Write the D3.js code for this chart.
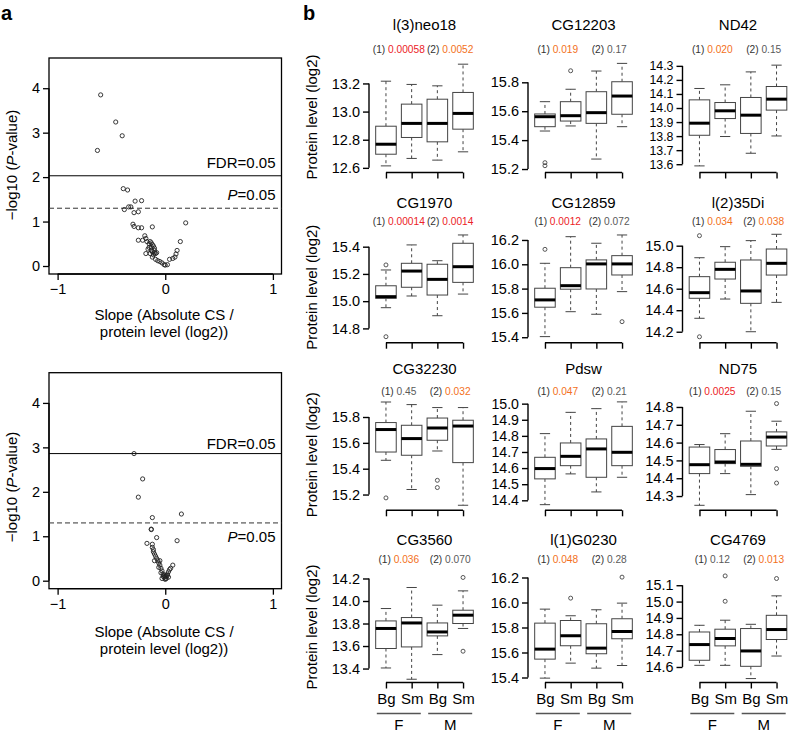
<!DOCTYPE html>
<html><head><meta charset="utf-8">
<script src="https://cdn.jsdelivr.net/npm/d3@7"></script>
<style>
body{margin:0;background:#fff}
svg{display:block;font-family:"Liberation Sans",Arial,Helvetica,sans-serif}
</style>
</head><body>
<svg id="chart" width="788" height="732"></svg>
<script>
// ---------- Panel a data ----------
const slopeTop = [-0.60,-0.46,-0.40,-0.63,-0.39,-0.35,-0.28,-0.22,-0.38,-0.34,-0.32,-0.29,-0.25,-0.30,-0.29,-0.25,-0.22,-0.12,0.19,0.14,0.11,0.10,0.09,0.07,0.04,0.02,0.00,-0.01,-0.03,-0.05,
  -0.25,-0.21,-0.19,-0.18,-0.17,-0.15,-0.14,-0.13,-0.12,-0.11,-0.10,-0.15,-0.13,-0.12,-0.10,-0.09,-0.08,-0.11,-0.14,-0.16,-0.18,-0.12,-0.09,-0.07,-0.13,-0.10];
const logPTop = [3.85,3.24,2.93,2.60,1.74,1.71,1.46,1.47,1.27,1.33,1.33,1.20,1.22,0.94,0.89,0.86,0.86,0.88,0.97,0.55,0.35,0.27,0.20,0.17,0.15,0.03,0.02,0.03,0.07,0.10,
  0.58,0.58,0.68,0.62,0.55,0.50,0.55,0.52,0.48,0.45,0.40,0.42,0.35,0.32,0.30,0.28,0.30,0.25,0.28,0.38,0.28,0.20,0.15,0.12,0.42,0.35];
const slopeBottom = [-0.29,-0.21,-0.25,-0.12,0.15,-0.13,-0.13,-0.08,0.11,-0.17,-0.12,-0.12,-0.11,-0.11,-0.10,-0.09,-0.08,-0.10,-0.07,-0.05,-0.06,-0.05,-0.06,-0.04,-0.03,-0.04,-0.02,-0.02,-0.01,0.00,0.00,0.01,0.01,0.02,0.02,0.03,0.04,0.05,0.07,-0.01,0.00,-0.03,0.03];
const logPBottom = [2.86,2.29,1.88,1.42,1.50,1.15,1.16,0.97,0.90,0.84,0.82,0.75,0.70,0.65,0.60,0.55,0.50,0.45,0.45,0.45,0.40,0.35,0.30,0.28,0.22,0.18,0.15,0.10,0.08,0.05,0.03,0.05,0.10,0.12,0.15,0.20,0.25,0.28,0.35,0.12,0.10,0.05,0.08];
const fdrLines = [2.03, 2.86];
const pLine = 1.30;
const aXTicks = [-1, 0, 1];
const aYTicks = [0, 1, 2, 3, 4];

// ---------- Panel b data ----------
const genes = ["l(3)neo18","CG12203","ND42","CG1970","CG12859","l(2)35Di","CG32230","Pdsw","ND75","CG3560","l(1)G0230","CG4769"];
const groups = ["Bg","Sm","Bg","Sm"];
const sexes = ["F","M"];
const pval1 = ["0.00058","0.019","0.020","0.00014","0.0012","0.034","0.45","0.047","0.0025","0.036","0.048","0.12"];
const pval2 = ["0.0052","0.17","0.15","0.0014","0.072","0.038","0.032","0.21","0.15","0.070","0.28","0.013"];
const sig1 = ["fdr","p","p","fdr","fdr","p","ns","p","fdr","p","p","ns"];
const sig2 = ["p","ns","ns","fdr","ns","p","p","ns","ns","ns","ns","p"];
// [lower whisker, Q1, median, Q3, upper whisker] for Bg-F, Sm-F, Bg-M, Sm-M
const stats = [
 [[12.614,12.697,12.768,12.896,13.216],[12.667,12.816,12.916,13.053,13.193],[12.655,12.785,12.916,13.088,13.183],[12.714,12.875,12.987,13.136,13.337]],
 [[15.463,15.493,15.562,15.581,15.666],[15.498,15.532,15.569,15.666,15.752],[15.269,15.516,15.590,15.735,15.878],[15.493,15.579,15.705,15.804,15.931]],
 [[13.588,13.806,13.892,14.058,14.139],[13.797,13.925,13.980,14.039,14.165],[13.678,13.819,13.949,14.075,14.257],[13.801,13.985,14.063,14.153,14.305]],
 [[14.952,15.021,15.033,15.113,15.229],[15.038,15.102,15.221,15.278,15.413],[14.893,15.045,15.160,15.271,15.297],[15.052,15.138,15.253,15.425,15.486]],
 [[15.405,15.647,15.707,15.803,16.008],[15.610,15.795,15.824,15.972,16.227],[15.589,15.797,16.003,16.036,16.173],[15.775,15.912,16.003,16.071,16.241]],
 [[14.325,14.511,14.563,14.712,14.888],[14.504,14.690,14.780,14.846,14.991],[14.200,14.464,14.579,14.867,15.047],[14.473,14.727,14.836,14.969,15.106]],
 [[15.465,15.529,15.703,15.757,15.916],[15.239,15.504,15.633,15.736,15.896],[15.537,15.620,15.715,15.792,15.873],[15.117,15.447,15.730,15.775,15.873]],
 [[14.373,14.533,14.597,14.667,14.814],[14.564,14.615,14.673,14.756,14.946],[14.452,14.543,14.719,14.781,14.969],[14.543,14.615,14.698,14.859,15.011]],
 [[14.248,14.426,14.476,14.575,14.589],[14.426,14.482,14.491,14.561,14.650],[14.308,14.467,14.478,14.609,14.776],[14.562,14.581,14.631,14.660,14.720]],
 [[13.405,13.578,13.756,13.823,13.933],[13.305,13.592,13.805,13.853,14.120],[13.524,13.690,13.725,13.805,13.963],[13.756,13.800,13.874,13.918,14.090]],
 [[15.395,15.547,15.627,15.835,15.947],[15.515,15.654,15.734,15.856,15.894],[15.475,15.590,15.635,15.830,15.942],[15.496,15.710,15.768,15.870,15.995]],
 [[14.610,14.641,14.737,14.814,14.855],[14.610,14.729,14.774,14.831,14.886],[14.529,14.604,14.698,14.835,14.861],[14.667,14.768,14.829,14.916,15.035]]
];
const outliers = [
 [[],[],[],[]],
 [[15.244,15.223],[15.88],[],[]],
 [[],[],[],[]],
 [[15.266,14.739],[],[],[]],
 [[16.123],[],[],[15.528]],
 [[15.093,14.153],[],[],[]],
 [[15.174],[],[15.310,15.254],[]],
 [[],[],[],[]],
 [[],[],[],[14.819,14.454,14.373]],
 [[],[],[],[14.209,13.554]],
 [[],[16.035],[],[16.203]],
 [[],[15.157,15.002],[],[15.141]]
];
const yLims = [[12.567,13.356],[15.176,15.944],[13.541,14.331],[14.695,15.51],[15.355,16.268],[14.098,15.130],
               [15.078,15.937],[14.338,15.027],[14.220,14.843],[13.276,14.262],[15.36,16.248],[14.505,15.184]];
const yTicks = [[12.6,12.8,13.0,13.2],[15.2,15.4,15.6,15.8],[13.6,13.7,13.8,13.9,14.0,14.1,14.2,14.3],
                [14.8,15.0,15.2,15.4],[15.4,15.6,15.8,16.0,16.2],[14.2,14.4,14.6,14.8,15.0],
                [15.2,15.4,15.6,15.8],[14.4,14.5,14.6,14.7,14.8,14.9,15.0],[14.3,14.4,14.5,14.6,14.7,14.8],
                [13.4,13.6,13.8,14.0,14.2],[15.4,15.6,15.8,16.0,16.2],[14.6,14.7,14.8,14.9,15.0,15.1]];

// ---------- layout / style ----------
const svg = d3.select("#chart");
const FONT = 15;
const sigColor = {fdr:"#ec2227", p:"#f37021", ns:"#5a5a5a"};

svg.append("text").attr("x",1).attr("y",20).attr("font-size",20).attr("font-weight","bold").text("a");
svg.append("text").attr("x",303).attr("y",20).attr("font-size",20).attr("font-weight","bold").text("b");

// ---------- Panel a ----------
function volcano(top, xs, ys, fdr, fdrTextY, pTextY, xLabY, yLabY) {
  const g = svg.append("g");
  const left = 49, right = 281.5, bottom = top + 216;
  const x = d3.scaleLinear().domain([-1.08, 1.08]).range([left, right]);
  const y = d3.scaleLinear().domain([-0.18, 4.68]).range([bottom, top]);
  g.append("rect").attr("x",left).attr("y",top).attr("width",right-left).attr("height",bottom-top)
    .attr("fill","none").attr("stroke","#000").attr("stroke-width",1.3);
  const ya = g.append("g").attr("transform",`translate(${left},0)`)
    .call(d3.axisLeft(y).tickValues(aYTicks).tickSize(6).tickPadding(3).tickFormat(d3.format("d")));
  ya.select(".domain").attr("d",`M0,${y(aYTicks[0])}V${y(aYTicks[aYTicks.length-1])}`);
  const xa = g.append("g").attr("transform",`translate(0,${bottom})`)
    .call(d3.axisBottom(x).tickValues(aXTicks).tickSize(6).tickPadding(4).tickFormat(d => d < 0 ? "\u2212" + Math.abs(d) : d));
  xa.select(".domain").attr("d",`M${x(aXTicks[0])},0H${x(aXTicks[aXTicks.length-1])}`);
  [ya, xa].forEach(a => {
    a.selectAll("text").attr("font-size",14.5).attr("fill","#000").attr("font-family",null);
    a.selectAll("line,path").attr("stroke","#000").attr("stroke-width",1.3);
  });
  g.append("line").attr("x1",left).attr("x2",right).attr("y1",y(fdr)).attr("y2",y(fdr))
    .attr("stroke","#000").attr("stroke-width",1);
  g.append("line").attr("x1",left).attr("x2",right).attr("y1",y(pLine)).attr("y2",y(pLine))
    .attr("stroke","#333").attr("stroke-width",1).attr("stroke-dasharray","5,3");
  g.append("text").attr("x",275.5).attr("y",fdrTextY).attr("text-anchor","end").attr("font-size",FONT).text("FDR=0.05");
  const pt = g.append("text").attr("x",275.5).attr("y",pTextY).attr("text-anchor","end").attr("font-size",FONT);
  pt.append("tspan").attr("font-style","italic").text("P");
  pt.append("tspan").text("=0.05");
  g.selectAll("circle.pt").data(xs.map((v,i)=>[v, ys[i]])).join("circle")
    .attr("cx",d=>x(d[0])).attr("cy",d=>y(d[1])).attr("r",2.1)
    .attr("fill","none").attr("stroke","#222").attr("stroke-width",0.9);
  const yl = g.append("text").attr("transform",`translate(17,${yLabY}) rotate(-90)`).attr("text-anchor","middle").attr("font-size",FONT);
  yl.append("tspan").text("\u2212log10 (");
  yl.append("tspan").attr("font-style","italic").text("P");
  yl.append("tspan").text("-value)");
  g.append("text").attr("x",164).attr("y",xLabY).attr("text-anchor","middle").attr("font-size",FONT).text("Slope (Absolute CS /");
  g.append("text").attr("x",164).attr("y",xLabY+16.5).attr("text-anchor","middle").attr("font-size",FONT).text("protein level (log2))");
}
volcano(58, slopeTop, logPTop, fdrLines[0], 168, 200, 320, 165);
volcano(372.7, slopeBottom, logPBottom, fdrLines[1], 449, 541.5, 637, 487);

// ---------- Panel b ----------
const colLefts = [369, 528, 682.5];
const rowAxisY = [172.5, 342.7, 510.3, 682.5];
const titleY = [29.5, 208, 374, 545];
const pvalY = [52.5, 225, 395, 563];
const PH = 111, PW = 111;

genes.forEach((gene, i) => {
  const r = Math.floor(i/3), c = i % 3;
  const L = colLefts[c], B = rowAxisY[r];
  const g = svg.append("g");
  const x = d3.scaleLinear().domain([0.34, 4.66]).range([L, L+PW]);
  const y = d3.scaleLinear().domain(yLims[i]).range([B, B-PH]);
  const bw = x(0.8) - x(0);
  const yt = yTicks[i];
  const tickGap = Math.abs(y(yt[0]) - y(yt[1]));
  const tickFont = Math.min(14.5, tickGap * 0.88);

  // y axis
  const ya = g.append("g").attr("transform",`translate(${L},0)`)
    .call(d3.axisLeft(y).tickValues(yt).tickSize(6).tickPadding(3).tickFormat(d3.format(".1f")));
  ya.select(".domain").attr("d",`M0,${y(yt[0])}V${y(yt[yt.length-1])}`);
  // x axis
  const xa = g.append("g").attr("transform",`translate(0,${B})`)
    .call(d3.axisBottom(x).tickValues([1,2,3,4]).tickSize(6).tickPadding(5).tickFormat((d,k) => r === 3 ? groups[k] : ""));
  xa.select(".domain").attr("d",`M${x(1)},0H${x(4)}`);
  [ya, xa].forEach(a => {
    a.selectAll("text").attr("fill","#000").attr("font-family",null);
    a.selectAll("line,path").attr("stroke","#000").attr("stroke-width",1.4);
  });
  ya.selectAll("text").attr("font-size",tickFont);
  xa.selectAll("text").attr("font-size",FONT);

  // boxes
  stats[i].forEach((s, k) => {
    const cx = x(k+1);
    const [lw,q1,md,q3,uw] = s;
    const bg = g.append("g");
    bg.append("line").attr("x1",cx).attr("x2",cx).attr("y1",y(q3)).attr("y2",y(uw))
      .attr("stroke","#444").attr("stroke-width",1).attr("stroke-dasharray","3,3");
    bg.append("line").attr("x1",cx).attr("x2",cx).attr("y1",y(q1)).attr("y2",y(lw))
      .attr("stroke","#444").attr("stroke-width",1).attr("stroke-dasharray","3,3");
    [lw, uw].forEach(v => bg.append("line").attr("x1",cx-bw/4).attr("x2",cx+bw/4).attr("y1",y(v)).attr("y2",y(v))
      .attr("stroke","#444").attr("stroke-width",1));
    bg.append("rect").attr("x",cx-bw/2).attr("width",bw).attr("y",y(q3)).attr("height",y(q1)-y(q3))
      .attr("fill","#fff").attr("stroke","#444").attr("stroke-width",1);
    bg.append("line").attr("x1",cx-bw/2).attr("x2",cx+bw/2).attr("y1",y(md)).attr("y2",y(md))
      .attr("stroke","#000").attr("stroke-width",3);
    bg.selectAll("circle").data(outliers[i][k]).join("circle")
      .attr("cx",cx).attr("cy",d=>y(d)).attr("r",2).attr("fill","none").attr("stroke","#444").attr("stroke-width",0.9);
  });

  // title
  g.append("text").attr("x",L+PW/2).attr("y",titleY[r]).attr("text-anchor","middle").attr("font-size",FONT).text(gene);
  // p-values
  [[pval1[i], sig1[i], "(1) ", 1.5], [pval2[i], sig2[i], "(2) ", 3.5]].forEach(([pv, sg, lab, pos]) => {
    const t = g.append("text").attr("x",x(pos)).attr("y",pvalY[r]).attr("text-anchor","middle").attr("font-size",10.2);
    t.append("tspan").attr("fill","#333").text(lab);
    t.append("tspan").attr("fill",sigColor[sg]).text(pv);
  });
  // y label
  if (c === 0) {
    g.append("text").attr("transform",`translate(317,${B-PH/2}) rotate(-90)`).attr("text-anchor","middle")
      .attr("font-size",FONT).text("Protein level (log2)");
  }
  // sex labels
  if (r === 3) {
    sexes.forEach((sx, k) => {
      const mid = x(1.5 + 2*k);
      g.append("line").attr("x1",mid-22).attr("x2",mid+22).attr("y1",713.5).attr("y2",713.5)
        .attr("stroke","#555").attr("stroke-width",1.5);
      g.append("text").attr("x",mid).attr("y",730).attr("text-anchor","middle").attr("font-size",FONT).text(sx);
    });
  }
});
</script>
</body></html>
